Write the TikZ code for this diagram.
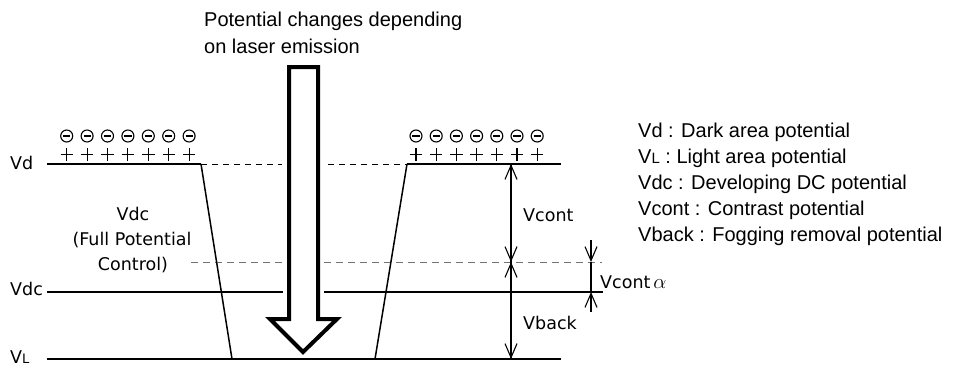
\documentclass[tikz,border=0pt]{standalone}
\usepackage{fontspec}
\setmainfont{Liberation Sans}
\newfontfamily\lblfont{DejaVu Sans}
\usetikzlibrary{arrows.meta}
\begin{document}
\begin{tikzpicture}[x=1pt,y=-1pt,
  lvl/.style={line width=1.8pt},
  slant/.style={line width=1.5pt},
  dashk/.style={line width=1pt, dash pattern=on 6pt off 5pt},
  dashg/.style={line width=1pt, black!55, dash pattern=on 7pt off 5pt},
  dim/.style={line width=1.1pt},
  barb/.style={-{Straight Barb[length=14pt,width=12pt,line width=1.1pt]}},
  lbl/.style={font=\lblfont\fontsize{17.5}{21}\selectfont, inner sep=0pt},
  leg/.style={font=\fontsize{20}{24}\selectfont, inner sep=0pt, anchor=base west},
  charge/.style={line width=1.1pt},
  bigarrow/.style={line width=4pt, fill=white, line join=miter},
]
\useasboundingbox (0,0) rectangle (963,367);

% key points
\coordinate (vdL) at (47,164);
\coordinate (vdA) at (201,164);
\coordinate (vlA) at (232,359);
\coordinate (vdB) at (407,164);
\coordinate (vdR) at (561,164);
\coordinate (vlB) at (375,359);
\coordinate (vlL) at (47,359);
\coordinate (vlR) at (561,359);
\coordinate (vdcL) at (47,292);
\coordinate (vdcM) at (283,292);
\coordinate (vdcN) at (324,292);
\coordinate (vdcR) at (603,292);
\coordinate (dA1) at (201,164);
\coordinate (dA2) at (282,164);
\coordinate (dB1) at (328,164);
\coordinate (dB2) at (407,164);
\coordinate (gA1) at (191,262);
\coordinate (gA2) at (282,262);
\coordinate (gB1) at (324,262);
\coordinate (gB2) at (602,262);
\coordinate (m1) at (511,164);
\coordinate (m2) at (511,262);
\coordinate (m3) at (511,359);
\coordinate (a0) at (591,240);
\coordinate (a1) at (591,262);
\coordinate (a2) at (591,292);
\coordinate (a3) at (591,312);

% dashed reference lines
\draw[dashk] (dA1) -- (dA2);
\draw[dashk] (dB1) -- (dB2);
\draw[dashg] (gA1) -- (gA2);
\draw[dashg] (gB1) -- (gB2);

% potential levels
\draw[lvl] (vdL) -- (vdA);
\draw[lvl] (vdB) -- (vdR);
\draw[lvl] (vdcL) -- (vdcM);
\draw[lvl] (vdcN) -- (vdcR);
\draw[lvl] (vlL) -- (vlR);
\draw[slant] (vdA) -- (vlA);
\draw[slant] (vdB) -- (vlB);

% big arrow
\draw[bigarrow] (289,67) -- (318,67) -- (318,319) -- (337,319) -- (303,352)
  -- (270,319) -- (289,319) -- cycle;

% charges
\foreach \i in {0,...,6}{
  \pgfmathsetmacro{\xa}{66.7+20.4*\i}
  \pgfmathsetmacro{\xb}{416+20.2*\i}
  \foreach \xc in {\xa,\xb}{
    \draw[charge] (\xc,136) circle[radius=6pt];
    \draw[charge] (\xc-3.6,136) -- (\xc+3.6,136);
    \draw[charge] (\xc-6.2,154.5) -- (\xc+6.2,154.5);
    \draw[charge] (\xc,148.3) -- (\xc,160.7);
  }
}

% dimension arrows
\draw[dim,barb] (m2) -- (m1);
\draw[dim,barb] (m1) -- (m2);
\draw[dim,barb] (m2) -- (m3);
\draw[dim,barb] (m3) -- (m2);
\draw[dim,barb] (a0) -- (a1);
\draw[dim] (a1) -- (a2);
\draw[dim,barb] (a3) -- (a2);

% labels
\node[lbl, anchor=base west] (tvd) at (10,169) {Vd};
\node[lbl, anchor=base west] (tvdc) at (10,295) {Vdc};
\node[lbl, anchor=base west] (tvl) at (10,363.5) {V{\fontsize{13}{13}\selectfont L}};
\node[lbl, anchor=base] (fp1) at (133,220) {Vdc};
\node[lbl, anchor=base] (fp2) at (132,245) {(Full Potential};
\node[lbl, anchor=base] (fp3) at (133,270) {Control)};
\node[lbl, anchor=west] (tvc) at (523,215) {Vcont};
\node[lbl, anchor=west] (tvb) at (523,323) {Vback};
\node[lbl, anchor=west] (tva) at (600,282) {Vcont\,{\fontsize{21}{21}\selectfont$\alpha$}};

% title
\node[leg] (t1) at (204,26) {Potential changes depending};
\node[leg] (t2) at (204,53) {on laser emission};

% legend
\node[leg] (l1) at (638,137.5) {Vd : Dark area potential};
\node[leg] (l2) at (638,163.5) {V{\fontsize{15}{15}\selectfont L} : Light area potential};
\node[leg] (l3) at (638,189.5) {Vdc : Developing DC potential};
\node[leg] (l4) at (638,215.5) {Vcont : Contrast potential};
\node[leg] (l5) at (638,241.5) {Vback : Fogging removal potential};
\end{tikzpicture}
\end{document}
